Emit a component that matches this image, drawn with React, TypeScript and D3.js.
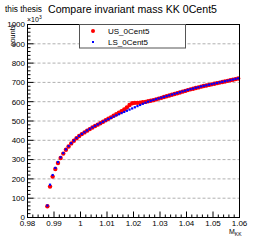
import * as d3 from "d3";

// bin centres: 0.9875 .. 1.0595, step 0.001
const massBins = [
  0.9875, 0.9885, 0.9895, 0.9905, 0.9915, 0.9925, 0.9935, 0.9945, 0.9955, 0.9965,
  0.9975, 0.9985, 0.9995, 1.0005, 1.0015, 1.0025, 1.0035, 1.0045, 1.0055, 1.0065,
  1.0075, 1.0085, 1.0095, 1.0105, 1.0115, 1.0125, 1.0135, 1.0145, 1.0155, 1.0165,
  1.0175, 1.0185, 1.0195, 1.0205, 1.0215, 1.0225, 1.0235, 1.0245, 1.0255, 1.0265,
  1.0275, 1.0285, 1.0295, 1.0305, 1.0315, 1.0325, 1.0335, 1.0345, 1.0355, 1.0365,
  1.0375, 1.0385, 1.0395, 1.0405, 1.0415, 1.0425, 1.0435, 1.0445, 1.0455, 1.0465,
  1.0475, 1.0485, 1.0495, 1.0505, 1.0515, 1.0525, 1.0535, 1.0545, 1.0555, 1.0565,
  1.0575, 1.0585, 1.0595,
];

// counts in units of 10^3
const usCounts = [
  58, 160, 212, 251, 282, 308, 331, 351, 368, 384,
  398, 411, 422, 432, 441, 450, 458, 466, 474, 481,
  488, 496, 504, 512, 519, 527, 535, 543, 551, 560,
  570, 583, 592, 594, 594, 595, 597, 599, 602, 605,
  608, 612, 616, 620, 624, 628, 632, 636, 640, 644,
  648, 652, 656, 660, 664, 667, 671, 674, 678, 681,
  684, 687, 690, 693, 696, 699, 702, 705, 708, 711,
  714, 717, 720,
];

const lsCounts = [
  62, 170, 220, 257, 287, 312, 334, 353, 370, 385,
  399, 412, 423, 433, 442, 451, 459, 467, 475, 482,
  489, 496, 503, 510, 516, 523, 529, 535, 541, 547,
  553, 559, 565, 571, 577, 583, 589, 595, 600, 605,
  609, 613, 617, 621, 625, 629, 633, 637, 641, 645,
  649, 653, 657, 661, 665, 668, 672, 675, 679, 682,
  685, 688, 691, 694, 697, 700, 703, 706, 709, 712,
  715, 718, 721,
];

const xTicks = [0.98, 0.99, 1.0, 1.01, 1.02, 1.03, 1.04, 1.05, 1.06];
const yTicks = [0, 100, 200, 300, 400, 500, 600, 700, 800, 900, 1000];

const FONT = "'Liberation Sans', Arial, sans-serif";

export default function App() {
  const left = 27.5, right = 239.5, top = 24.5, bottom = 217.5;

  const x = d3.scaleLinear().domain([0.98, 1.06]).range([left, right]);
  const y = d3.scaleLinear().domain([0, 1000]).range([bottom, top]);

  const xMinor = d3.range(0, 41).map((i) => 0.98 + i * 0.002);
  const yMinor = d3.range(0, 51).map((i) => i * 20);

  const xFmt = (v: number) => (Math.abs(v - 1) < 1e-9 ? "1" : d3.format(".2~f")(v));

  return (
    <svg
      width={266}
      height={242}
      style={{ position: "absolute", left: 0, top: 0, background: "#fff" }}
      fontFamily={FONT}
    >
      <rect x={0} y={0} width={266} height={242} fill="#fff" />

      {/* title */}
      <text x={5} y={12} fontSize={8.3}>this thesis</text>
      <text x={48} y={13} fontSize={10.6}>Compare invariant mass KK 0Cent5</text>

      {/* grid */}
      {yTicks.slice(1, -1).map((t) => (
        <line key={"g" + t} x1={left} x2={right} y1={y(t)} y2={y(t)}
          stroke="#b0b0b0" strokeWidth={1} strokeDasharray="3,2" />
      ))}

      {/* minor ticks */}
      {xMinor.map((t, i) => (
        <line key={"xm" + i} x1={x(t)} x2={x(t)} y1={bottom} y2={bottom - (i % 5 === 0 ? 6 : 3)}
          stroke="#000" strokeWidth={1} />
      ))}
      {yMinor.map((t, i) => (
        <line key={"ym" + i} x1={left} x2={left + (i % 5 === 0 ? 6 : 3)} y1={y(t)} y2={y(t)}
          stroke="#000" strokeWidth={1} />
      ))}

      {/* tick labels */}
      {xTicks.map((t) => (
        <text key={"xl" + t} x={x(t)} y={226} fontSize={8} textAnchor="middle">{xFmt(t)}</text>
      ))}
      {yTicks.map((t) => (
        <text key={"yl" + t} x={25} y={y(t)} dy="0.35em" fontSize={8} textAnchor="end">{t}</text>
      ))}

      {/* exponent + axis titles */}
      <text x={27} y={22} fontSize={7}>
        ×10<tspan dy={-3} fontSize={5}>3</tspan>
      </text>
      <text transform={`translate(15,${top}) rotate(-90)`} fontSize={7.5} textAnchor="end">counts</text>
      <text x={229} y={233.5} fontSize={7}>
        M<tspan dy={2} fontSize={5}>KK</tspan>
      </text>

      {/* data */}
      {massBins.map((m, i) => (
        <circle key={"us" + i} cx={x(m)} cy={y(usCounts[i])} r={2.2} fill="#ff0000" />
      ))}
      {massBins.map((m, i) => (
        <rect key={"ls" + i} x={x(m) - 1.1} y={y(lsCounts[i]) - 1.1} width={2.2} height={2.2} fill="#0000ff" />
      ))}

      {/* frame */}
      <rect x={left} y={top} width={right - left} height={bottom - top} fill="none" stroke="#000" strokeWidth={1} />

      {/* legend */}
      <rect x={79.5} y={24.5} width={106} height={23.5} fill="#fff" stroke="#555" strokeWidth={1} />
      <circle cx={93} cy={31} r={2} fill="#ff0000" />
      <text x={108} y={31} dy="0.35em" fontSize={8}>US_0Cent5</text>
      <rect x={92} y={41} width={2} height={2} fill="#0000ff" />
      <text x={108} y={42} dy="0.35em" fontSize={8}>LS_0Cent5</text>
    </svg>
  );
}
